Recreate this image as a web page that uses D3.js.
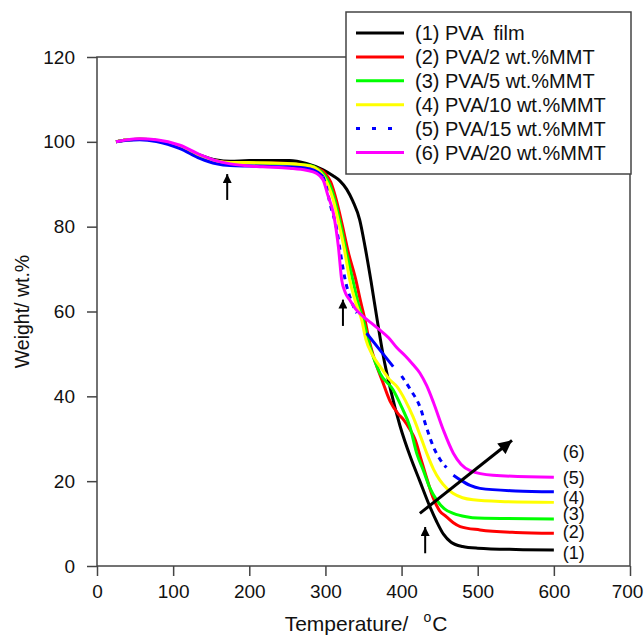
<!DOCTYPE html>
<html>
<head>
<meta charset="utf-8">
<script src="https://cdn.jsdelivr.net/npm/d3@7"></script>
<style>
    body { margin: 0; background: #fff; }
    svg text { font-family: "Liberation Sans", Arial, sans-serif; fill: #111; white-space: pre; }
</style>
</head>
<body>
<div id="chart"></div>
<script>
//tick values of both axes
var xTicks = [0, 100, 200, 300, 400, 500, 600, 700];
var yTicks = [0, 20, 40, 60, 80, 100, 120];

//series names and colors
var seriesNames = ['(1) PVA  film', '(2) PVA/2 wt.%MMT', '(3) PVA/5 wt.%MMT', '(4) PVA/10 wt.%MMT', '(5) PVA/15 wt.%MMT', '(6) PVA/20 wt.%MMT'];
var seriesColors = ['#000000', '#ff0000', '#00ff00', '#ffff00', '#0000ff', '#ff00ff'];
var endLabels = ['(1)', '(2)', '(3)', '(4)', '(5)', '(6)'];

//tga curves as [temperature, weight]
var pvaFilm = [[25, 100], [40, 100.5], [56, 100.6], [78, 100.3], [109, 98.9], [135, 96.9], [157, 95.7], [175, 95.4], [200, 95.6], [253, 95.6], [275, 94.9], [297, 93.4], [310, 92], [319, 90.8], [328, 88.8], [336, 86], [345, 81.6], [352, 75.3], [360, 67], [368, 58], [376, 49.5], [385, 42], [398, 33], [412, 25.5], [424, 20], [436, 14.5], [446, 10.5], [455, 7.5], [465, 5.6], [480, 4.6], [500, 4.2], [550, 3.9], [600, 3.8]];
var pvaMmt2 = [[25, 100], [40, 100.5], [56, 100.6], [78, 100.3], [109, 98.8], [135, 96.7], [157, 95.5], [175, 95.1], [200, 95.1], [250, 94.9], [280, 94.3], [290, 93.7], [300, 92.5], [307, 90.5], [314, 86.5], [322, 80.5], [330, 74], [340, 67.4], [346, 62.5], [352, 58], [357, 53.5], [363, 49.5], [375, 43.5], [385, 38.8], [395, 36], [403, 34.4], [410, 32.5], [418, 29.7], [425, 25.5], [431, 21.9], [441, 16.3], [450, 13], [459, 11.6], [468, 10.2], [477, 9.3], [503, 8.5], [550, 7.9], [600, 7.7]];
var pvaMmt5 = [[25, 100], [40, 100.5], [56, 100.6], [78, 100.3], [109, 98.8], [135, 96.6], [157, 95.4], [175, 95], [200, 95], [250, 94.8], [280, 94.4], [290, 93.6], [298, 92.3], [305, 90.2], [312, 86.5], [320, 80.5], [327, 74.5], [336, 67.4], [343, 62], [349.7, 58], [358.5, 51.7], [371.7, 45.4], [389, 41.5], [400, 37.5], [411, 32.8], [420, 26.5], [428.5, 22.6], [437, 18.5], [446, 15.6], [456, 13.5], [468, 12.4], [485, 11.6], [500, 11.3], [600, 11.1]];
var pvaMmt10 = [[25, 100], [40, 100.5], [56, 100.6], [78, 100.3], [109, 98.8], [135, 96.7], [157, 95.5], [175, 95.1], [200, 95.1], [250, 94.9], [280, 94.3], [290, 93.4], [297, 92], [303, 90], [310, 86.5], [318, 80.5], [325, 74.5], [332, 67.4], [340, 62], [347.6, 58], [353, 53.5], [361, 50], [372, 47], [384, 44], [394, 42.3], [405, 39], [415, 35.2], [425, 30.5], [433, 26.6], [442, 22.8], [450, 20.3], [460, 18.2], [468, 17.1], [480, 16.1], [494, 15.6], [530, 15.2], [600, 15]];
var pvaMmt15 = [[25, 100], [40, 100.4], [56, 100.5], [78, 100.1], [109, 98.4], [135, 96.1], [157, 94.8], [175, 94.4], [200, 94.3], [250, 94.1], [280, 93.6], [290, 92.8], [297, 91.8], [301, 89.5], [306, 85.5], [315, 79.2], [320, 73.5], [326, 67.4], [334, 62.5], [341, 59.6], [354, 54.9], [371.7, 50.9], [389, 47], [400, 44.8], [412, 41.5], [424, 37.6], [433, 32.5], [442, 28], [450, 25.3], [459, 23.2], [468, 21.4], [477, 20.3], [490, 19], [503, 18.3], [550, 17.7], [600, 17.5]];
var pvaMmt20 = [[25, 100], [40, 100.5], [56, 100.7], [78, 100.5], [109, 99.2], [135, 97], [157, 95.5], [175, 94.8], [200, 94.3], [218, 94.1], [253, 93.8], [275, 93.3], [288, 92.6], [297, 91], [303, 87.5], [310.4, 83.2], [317, 75.3], [321.4, 67.4], [326, 64.5], [332, 62.7], [340, 60.5], [349.7, 58.8], [360, 57.3], [371.7, 55.6], [383, 53.8], [393.6, 51.5], [405, 49.5], [415, 47.5], [424, 45.5], [433, 42.5], [442, 38.5], [455, 32], [468, 26.6], [478, 24], [490, 22.5], [520, 21.4], [600, 20.9]];
var seriesData = [pvaFilm, pvaMmt2, pvaMmt5, pvaMmt10, pvaMmt15, pvaMmt20];

//temperature ranges where the 15 wt.% curve is drawn dashed
var dashedRanges = [[297, 352], [395, 465]];

//end label weights at the right side
var endLabelWeights = [3.2, 8.1, 12.3, 16.2, 20.9, 27];

//arrows as [fromT, fromW, toT, toW]
var smallArrows = [[171, 86.3, 171, 92.4], [323, 56.6, 323, 62.8], [431, 3, 431, 9.2]];
var trendArrow = [424, 12.4, 545, 29.6];

//create svg
var width = 644, height = 635,
    plot = { left: 97, right: 630, top: 57, bottom: 566 },
    axisColor = '#444';

var svg = d3.select('#chart').append('svg')
    .attr('width', width)
    .attr('height', height);

//create scales
var xScale = d3.scaleLinear().domain([0, 700]).range([plot.left, plot.right]);
var yScale = d3.scaleLinear().domain([0, 120]).range([plot.bottom, plot.top]);

//draw axes
var xAxisG = svg.append('g')
    .attr('transform', 'translate(0,' + plot.bottom + ')')
    .call(d3.axisBottom(xScale).tickValues(xTicks).tickSize(10).tickPadding(9));
var yAxisG = svg.append('g')
    .attr('transform', 'translate(' + plot.left + ',0)')
    .call(d3.axisLeft(yScale).tickValues(yTicks).tickSize(10).tickPadding(12));

[xAxisG, yAxisG].forEach(function (g) {
    g.select('.domain').remove();
    g.selectAll('line').attr('stroke', axisColor).attr('stroke-width', 1.5);
    g.selectAll('text').attr('font-size', 19).attr('fill', '#111');
});

//keep the last x label inside the picture
xAxisG.selectAll('text').filter(function (d) { return d === 700; })
    .attr('dx', -3);

//draw plot frame
svg.append('rect')
    .attr('x', plot.left)
    .attr('y', plot.top)
    .attr('width', plot.right - plot.left)
    .attr('height', plot.bottom - plot.top)
    .attr('fill', 'none')
    .attr('stroke', axisColor)
    .attr('stroke-width', 1.5);

//axis titles
svg.append('text')
    .attr('transform', 'translate(29,' + ((plot.top + plot.bottom) / 2) + ') rotate(-90)')
    .attr('text-anchor', 'middle')
    .attr('font-size', 19.5)
    .text('Weight/ wt.%');

var xTitle = svg.append('text')
    .attr('x', 366)
    .attr('y', 631)
    .attr('text-anchor', 'middle')
    .attr('font-size', 21);
xTitle.append('tspan').text('Temperature/');
xTitle.append('tspan').attr('font-size', 14).attr('dx', 15).attr('dy', -9).text('o');
xTitle.append('tspan').attr('dx', 1).attr('dy', 9).text('C');

//line generator
var line = d3.line()
    .x(function (d) { return xScale(d[0]); })
    .y(function (d) { return yScale(d[1]); })
    .curve(d3.curveMonotoneX);

var curvesG = svg.append('g');

//draw curves
seriesData.forEach(function (data, i) {
    if (i !== 4) {
        curvesG.append('path')
            .attr('d', line(data))
            .attr('fill', 'none')
            .attr('stroke', seriesColors[i])
            .attr('stroke-width', 3);
        return;
    }

    //blue curve is split into solid and dashed parts
    var bounds = [data[0][0]];
    dashedRanges.forEach(function (r) { bounds.push(r[0], r[1]); });
    bounds.push(data[data.length - 1][0]);

    for (var k = 0; k < bounds.length - 1; k++) {
        var lo = bounds[k], hi = bounds[k + 1];
        var part = data.filter(function (d) { return d[0] >= lo && d[0] <= hi; });
        if (part.length < 2)
            continue;
        curvesG.append('path')
            .attr('d', line(part))
            .attr('fill', 'none')
            .attr('stroke', seriesColors[i])
            .attr('stroke-width', 3)
            .attr('stroke-dasharray', k % 2 === 1 ? '5,5' : null);
    }
});

//arrow heads
var defs = svg.append('defs');
defs.append('marker')
    .attr('id', 'headSmall')
    .attr('viewBox', '0 0 10 10')
    .attr('refX', 10).attr('refY', 5)
    .attr('markerWidth', 4.5).attr('markerHeight', 4.5)
    .attr('markerUnits', 'strokeWidth')
    .attr('orient', 'auto')
    .append('path').attr('d', 'M0,0L10,5L0,10Z').attr('fill', '#000');
defs.append('marker')
    .attr('id', 'headBig')
    .attr('viewBox', '0 0 10 10')
    .attr('refX', 10).attr('refY', 5)
    .attr('markerWidth', 5).attr('markerHeight', 4.5)
    .attr('markerUnits', 'strokeWidth')
    .attr('orient', 'auto')
    .append('path').attr('d', 'M0,0L10,5L0,10Z').attr('fill', '#000');

//draw small arrows
smallArrows.forEach(function (a) {
    svg.append('line')
        .attr('x1', xScale(a[0])).attr('y1', yScale(a[1]))
        .attr('x2', xScale(a[2])).attr('y2', yScale(a[3]))
        .attr('stroke', '#000')
        .attr('stroke-width', 2)
        .attr('marker-end', 'url(#headSmall)');
});

//draw trend arrow
svg.append('line')
    .attr('x1', xScale(trendArrow[0])).attr('y1', yScale(trendArrow[1]))
    .attr('x2', xScale(trendArrow[2])).attr('y2', yScale(trendArrow[3]))
    .attr('stroke', '#000')
    .attr('stroke-width', 3)
    .attr('marker-end', 'url(#headBig)');

//end labels
endLabels.forEach(function (t, i) {
    svg.append('text')
        .attr('x', xScale(626))
        .attr('y', yScale(endLabelWeights[i]))
        .attr('dy', '0.35em')
        .attr('text-anchor', 'middle')
        .attr('font-size', 18)
        .text(t);
});

//legend
var legend = svg.append('g');
legend.append('rect')
    .attr('x', 346).attr('y', 12)
    .attr('width', 285).attr('height', 162)
    .attr('fill', '#fff')
    .attr('stroke', axisColor)
    .attr('stroke-width', 1.5);

seriesNames.forEach(function (name, i) {
    var ly = 33 + i * 23.9;
    legend.append('line')
        .attr('x1', 356).attr('x2', i === 4 ? 394 : 404)
        .attr('y1', ly).attr('y2', ly)
        .attr('stroke', seriesColors[i])
        .attr('stroke-width', 3)
        .attr('stroke-dasharray', i === 4 ? '4,12' : null);
    legend.append('text')
        .attr('x', 415)
        .attr('y', ly)
        .attr('dy', '0.35em')
        .attr('font-size', 20)
        .text(name);
});
</script>
</body>
</html>
